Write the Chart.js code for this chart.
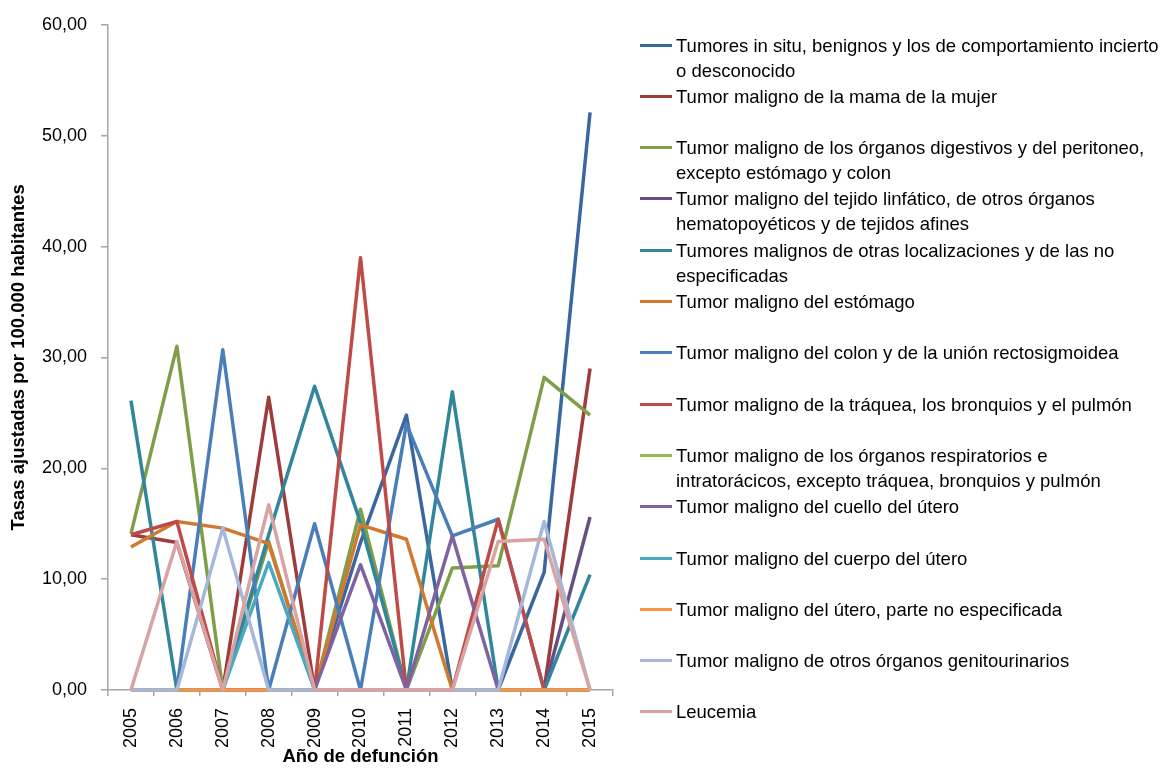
<!DOCTYPE html>
<html>
<head>
<meta charset="utf-8">
<title>Tasas ajustadas por 100.000 habitantes</title>
<script src="https://cdn.jsdelivr.net/npm/chart.js@4.4.1/dist/chart.umd.min.js"></script>
<style>
  html, body { margin: 0; padding: 0; background: #fff; }
  #wrap { position: relative; width: 1163px; height: 768px; overflow: hidden; }
  #chart { position: absolute; left: 0; top: 0; }
  #legend { position: absolute; left: 0; top: 0; font-family: "Liberation Sans", Arial, sans-serif; font-size: 18.5px; color: #000; }
  .leg-item { position: absolute; left: 640px; white-space: nowrap; line-height: 25px; }
  .leg-line { position: absolute; left: 0; top: 11px; width: 32px; height: 3px; }
  .leg-text { position: absolute; left: 36px; top: 0; }
</style>
</head>
<body>
<div id="wrap">
  <canvas id="chart" width="1163" height="768"></canvas>
  <div id="legend"></div>
</div>
<script>
const years = ["2005","2006","2007","2008","2009","2010","2011","2012","2013","2014","2015"];

const seriesNames = [
  ["Tumores in situ, benignos y los de comportamiento incierto", "o desconocido"],
  ["Tumor maligno de la mama de la mujer"],
  ["Tumor maligno de los órganos digestivos y del peritoneo,", "excepto estómago y colon"],
  ["Tumor maligno del tejido linfático, de otros órganos", "hematopoyéticos y de tejidos afines"],
  ["Tumores malignos de otras localizaciones y de las no", "especificadas"],
  ["Tumor maligno del estómago"],
  ["Tumor maligno del colon y de la unión rectosigmoidea"],
  ["Tumor maligno de la tráquea, los bronquios y el pulmón"],
  ["Tumor maligno de los órganos respiratorios e", "intratorácicos, excepto tráquea, bronquios y pulmón"],
  ["Tumor maligno del cuello del útero"],
  ["Tumor maligno del cuerpo del útero"],
  ["Tumor maligno del útero, parte no especificada"],
  ["Tumor maligno de otros órganos genitourinarios"],
  ["Leucemia"]
];

// values per series, 2005..2015
const inSitu          = [0, 0, 0, 0, 0, 13.3, 24.8, 0, 0, 10.6, 52.1];
const mama            = [14.0, 13.3, 0, 26.4, 0, 0, 0, 0, 0, 0, 29.0];
const digestivos      = [14.1, 31.0, 0, 13.4, 0, 16.3, 0, 11.0, 11.2, 28.2, 24.8];
const linfatico       = [0, 0, 0, 0, 0, 0, 0, 0, 0, 0, 15.6];
const otrasLocal      = [26.1, 0, 0, 14.0, 27.4, 15.1, 0, 26.9, 0, 0, 10.4];
const estomago        = [12.9, 15.2, 14.6, 13.2, 0, 14.9, 13.6, 0, 0, 0, 0];
const colon           = [0, 0, 30.7, 0, 15.0, 0, 24.0, 13.9, 15.4, 0, 0];
const traquea         = [14.0, 15.2, 0, 0, 0, 39.0, 0, 0, 15.4, 0, 0];
const respiratorios   = [0, 0, 0, 0, 0, 0, 0, 0, 0, 0, 0];
const cuelloUtero     = [0, 0, 0, 0, 0, 11.3, 0, 13.9, 0, 0, 0];
const cuerpoUtero     = [0, 0, 0, 11.5, 0, 0, 0, 0, 0, 0, 0];
const uteroNoEsp      = [0, 0, 0, 0, 0, 0, 0, 0, 0, 0, 0];
const genitourinarios = [0, 0, 14.6, 0, 0, 0, 0, 0, 0, 15.2, 0];
const leucemia        = [0, 13.4, 0, 16.7, 0, 0, 0, 0, 13.4, 13.6, 0];

const seriesValues = [inSitu, mama, digestivos, linfatico, otrasLocal, estomago, colon,
  traquea, respiratorios, cuelloUtero, cuerpoUtero, uteroNoEsp, genitourinarios, leucemia];

const seriesColors = ["#3B67A0", "#9E3C3A", "#7F9E48", "#664E87", "#31869C", "#D1792F", "#4A7EBB",
  "#BF4B48", "#98B954", "#7E62A1", "#46AAC5", "#F79646", "#A5B8DA", "#D8A3A2"];

const axisGray = "#A6A6A6";
const FONT = "'Liberation Sans', Arial, sans-serif";

const datasets = seriesValues.map((vals, i) => ({
  label: seriesNames[i].join(" "),
  data: vals,
  borderColor: seriesColors[i],
  backgroundColor: seriesColors[i],
  borderWidth: 3.5,
  borderJoinStyle: "round",
  pointRadius: 0,
  tension: 0,
  fill: false,
  clip: 6,
  order: seriesValues.length - i   // later series drawn on top, like the original
}));

const chart = new Chart(document.getElementById("chart"), {
  type: "line",
  data: { labels: years, datasets },
  options: {
    responsive: false,
    animation: false,
    events: [],
    layout: { padding: { left: 8, top: 10, right: 550, bottom: 0 } },
    plugins: { legend: { display: false }, tooltip: { enabled: false } },
    scales: {
      x: {
        offset: true,
        grid: { offset: true, drawOnChartArea: false, tickLength: 6, color: axisGray, lineWidth: 1.5 },
        border: { color: axisGray, width: 1.5 },
        ticks: { minRotation: 90, maxRotation: 90, color: "#000", padding: 12, font: { family: FONT, size: 18 } },
        title: { display: true, text: "Año de defunción", color: "#000", padding: { top: 0, bottom: 0 },
                 font: { family: FONT, size: 18.5, weight: "bold" } },
        afterFit: s => { s.height = 78; }
      },
      y: {
        min: 0,
        max: 60,
        grid: { drawOnChartArea: false, tickLength: 7, color: axisGray, lineWidth: 1.5 },
        border: { color: axisGray, width: 1.5 },
        ticks: { stepSize: 10, color: "#000", padding: 14, font: { family: FONT, size: 18 },
                 callback: v => v.toFixed(2).replace(".", ",") },
        title: { display: true, text: "Tasas ajustadas por 100.000 habitantes", color: "#000", padding: 0,
                 font: { family: FONT, size: 18.5, weight: "bold" } },
        afterFit: s => { s.width = 100; }
      }
    }
  }
});

// legend built from the chart's datasets
function buildLegend(){
  const box = document.getElementById("legend");
  chart.data.datasets.forEach((ds, i) => {
    const item = document.createElement("div");
    item.className = "leg-item";
    item.style.top = (32.5 + i * 51.3) + "px";
    const line = document.createElement("div");
    line.className = "leg-line";
    line.style.background = ds.borderColor;
    const text = document.createElement("div");
    text.className = "leg-text";
    text.innerHTML = seriesNames[i].join("<br>");
    item.appendChild(line);
    item.appendChild(text);
    box.appendChild(item);
  });
}

buildLegend();
</script>
</body>
</html>
